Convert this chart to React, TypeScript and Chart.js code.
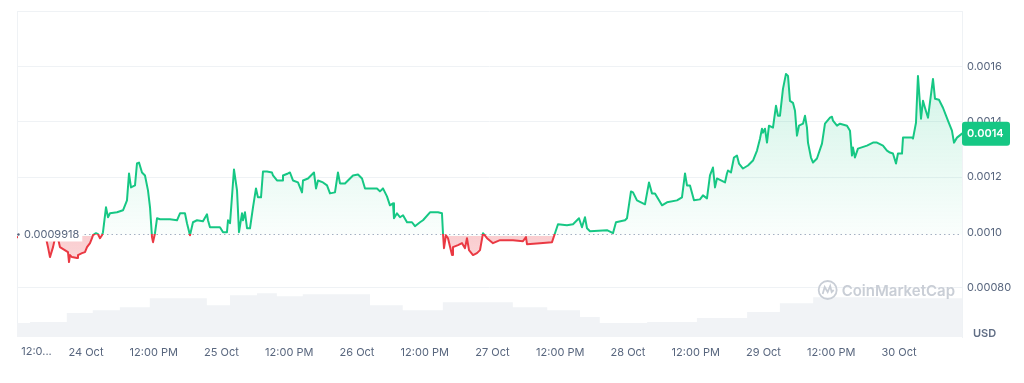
import React, { useEffect, useRef } from 'react';
import { Chart, registerables } from 'chart.js';

Chart.register(...registerables);

// Hours relative to 24 Oct 00:00
const hours = [
  -12.22, -10.8, -9.39, -8.15, -7.08, -6.73, -6.38, -5.84, -5.49, -4.96,
  -4.61, -3.19, -3.01, -2.83, -2.48, -1.59, -1.42, -0.71, -0.18, 0.18,
  0.71, 1.06, 1.24, 1.77, 2.13, 2.48, 2.83, 3.01, 3.54, 3.9,
  4.25, 5.49, 6.55, 6.91, 7.26, 7.62, 7.97, 8.68, 9.03, 9.39,
  9.92, 10.45, 10.98, 11.34, 11.69, 11.87, 12.22, 12.58, 13.11, 14.88,
  16.12, 16.65, 17.53, 17.89, 18.42, 18.95, 19.66, 20.72, 21.43, 21.61,
  21.96, 23.73, 24.27, 24.97, 25.15, 25.51, 26.21, 26.75, 27.1, 27.63,
  27.81, 28.16, 28.52, 29.05, 29.58, 30.11, 30.46, 31.0, 31.35, 32.06,
  32.94, 33.12, 33.83, 34.72, 34.89, 35.78, 36.13, 36.66, 37.55, 38.26,
  38.44, 39.32, 40.38, 40.74, 41.09, 41.98, 42.69, 43.22, 44.1, 44.63,
  44.99, 45.87, 47.29, 48.18, 48.89, 49.42, 51.54, 52.07, 52.6, 53.31,
  53.84, 54.38, 54.55, 55.08, 55.62, 56.15, 56.86, 57.74, 58.27, 59.16,
  59.69, 60.93, 62.35, 63.05, 63.23, 63.41, 63.76, 64.12, 64.83, 65.0,
  65.89, 66.6, 67.13, 67.48, 67.84, 68.55, 69.25, 69.79, 70.32, 71.03,
  72.09, 73.33, 75.63, 77.4, 77.93, 78.11, 80.41, 82.54, 83.07, 83.6,
  85.19, 86.26, 87.32, 87.85, 88.38, 88.74, 89.27, 92.28, 93.34, 93.87,
  95.47, 95.82, 96.53, 96.89, 97.59, 99.01, 99.72, 100.25, 100.78, 102.02,
  102.91, 104.68, 105.56, 106.1, 106.45, 106.98, 107.69, 108.75, 109.28, 109.99,
  110.52, 111.05, 111.41, 111.76, 113.18, 113.53, 113.71, 114.24, 114.77, 115.3,
  115.66, 116.37, 117.25, 118.14, 118.85, 119.38, 119.73, 119.91, 120.26, 120.62,
  120.97, 121.68, 122.21, 122.57, 122.92, 123.45, 123.98, 124.34, 124.69, 125.22,
  125.58, 125.93, 126.29, 127.0, 127.35, 127.7, 127.88, 128.41, 128.77, 129.47,
  129.65, 130.36, 130.89, 131.78, 132.13, 132.31, 133.02, 133.55, 134.79, 135.32,
  135.67, 135.85, 136.2, 136.73, 138.33, 139.39, 140.1, 141.16, 141.87, 142.4,
  142.93, 143.47, 143.82, 144.53, 144.71, 146.3, 146.48, 147.01, 147.36, 147.9,
  148.25, 148.6, 149.14, 150.02, 150.38, 151.08, 151.79, 152.67, 153.38, 153.74,
  154.27, 155.16,
];

const prices = [
  0.000982, 0.0009856, 0.000982, 0.0009783, 0.0009783, 0.0009459, 0.0009098, 0.0009459, 0.0009783, 0.0009783,
  0.0009459, 0.0009278, 0.0008917, 0.000917, 0.0009098, 0.0009061, 0.000917, 0.0009242, 0.0009278, 0.0009459,
  0.0009603, 0.0009783, 0.0009892, 0.0009964, 0.0009928, 0.0009783, 0.0009892, 0.001, 0.0010903, 0.0010542,
  0.0010686, 0.0010722, 0.0010794, 0.0010975, 0.0011155, 0.001213, 0.0011625, 0.0011697, 0.0012491, 0.0012527,
  0.0012166, 0.0012058, 0.0011516, 0.0010903, 0.000982, 0.0009639, 0.0009964, 0.0010505, 0.0010469, 0.0010469,
  0.0010433, 0.0010686, 0.0010686, 0.0010325, 0.0009892, 0.0010361, 0.0010433, 0.0010397, 0.001065, 0.0010433,
  0.0010181, 0.0010181, 0.001, 0.001, 0.0010433, 0.0010325, 0.0012274, 0.0011516, 0.001, 0.0010686,
  0.0010433, 0.0010722, 0.0010144, 0.0010144, 0.0010903, 0.0011588, 0.0011264, 0.0011264, 0.0012202, 0.0012202,
  0.0012166, 0.0012058, 0.0011877, 0.0011877, 0.0012058, 0.001213, 0.0012166, 0.0011877, 0.0011805, 0.0011444,
  0.0011877, 0.0011949, 0.0012166, 0.0011588, 0.0011877, 0.0011805, 0.0011697, 0.0011408, 0.0011444, 0.0012166,
  0.0011769, 0.0011769, 0.0012058, 0.0012094, 0.0011949, 0.0011588, 0.0011588, 0.001148, 0.0011588, 0.00113,
  0.0010975, 0.0011047, 0.0010505, 0.0010686, 0.0010542, 0.0010614, 0.0010361, 0.0010361, 0.0010217, 0.0010361,
  0.0010433, 0.0010722, 0.0010722, 0.0010686, 0.0009964, 0.0009422, 0.0009892, 0.0009783, 0.000917, 0.0009459,
  0.0009531, 0.0009603, 0.0009422, 0.0009783, 0.000935, 0.000917, 0.0009242, 0.000935, 0.0009964, 0.0009783,
  0.0009603, 0.0009711, 0.0009711, 0.0009675, 0.000982, 0.0009567, 0.0009603, 0.0009639, 0.0009964, 0.0010289,
  0.0010253, 0.0010289, 0.0010505, 0.0010181, 0.0010542, 0.0010144, 0.0010036, 0.0010072, 0.0009964, 0.0010361,
  0.0010433, 0.0010505, 0.001148, 0.0011444, 0.0011155, 0.0011011, 0.0011805, 0.0011408, 0.0011408, 0.0010975,
  0.0011083, 0.0011155, 0.0011264, 0.001213, 0.0011697, 0.0011697, 0.0011155, 0.0011191, 0.0011336, 0.0011227,
  0.0012058, 0.0012347, 0.0011625, 0.0011949, 0.0011805, 0.001213, 0.0012238, 0.0012166, 0.0012708, 0.001278,
  0.0012491, 0.001231, 0.0012419, 0.0012599, 0.001296, 0.0013393, 0.0013754, 0.001361, 0.0013754, 0.0013249,
  0.0013863, 0.0013791, 0.0014585, 0.0014224, 0.0014224, 0.0015198, 0.001574, 0.0015668, 0.0014765, 0.0014693,
  0.0014404, 0.0013502, 0.0013863, 0.0013935, 0.0014224, 0.0013791, 0.0013249, 0.0012708, 0.0012527, 0.0012671,
  0.001278, 0.0013213, 0.0013935, 0.0014152, 0.0014188, 0.0014043, 0.0013863, 0.0013935, 0.0013863, 0.0013682,
  0.001278, 0.0013069, 0.0012708, 0.0013032, 0.0013141, 0.0013249, 0.0013249, 0.0013141, 0.001296, 0.0012888,
  0.0012852, 0.0012491, 0.0012852, 0.0012852, 0.001343, 0.001343, 0.0013393, 0.0013971, 0.0015668, 0.0014115,
  0.0014765, 0.0014513, 0.0014152, 0.0015559, 0.0014837, 0.0014801, 0.0014513, 0.0014043, 0.0013682, 0.0013249,
  0.001343, 0.0013574,
];

const volumeHours = [
  -12.22, -9.9, -3.4, 1.2, 6.0, 11.3, 21.4, 25.5, 30.3, 33.8, 38.4, 50.3, 56.1,
  63.2, 75.6, 81.7, 87.5, 91.0, 99.4, 108.2, 117.1, 122.9, 128.8, 140.6, 155.16,
];
const volumes = [
  14, 15, 24, 27, 30, 39, 32, 42, 44, 41, 43, 32, 27,
  35, 30, 27, 20, 14, 15, 19, 25, 34, 40, 39, 39,
];

const xTickHours = [-12, 0, 12, 24, 36, 48, 60, 72, 84, 96, 108, 120, 132, 144];
const xTickLabels = [
  '12:0...', '24 Oct', '12:00 PM', '25 Oct', '12:00 PM', '26 Oct', '12:00 PM',
  '27 Oct', '12:00 PM', '28 Oct', '12:00 PM', '29 Oct', '12:00 PM', '30 Oct',
];
const yTicks = [0.0008, 0.001, 0.0012, 0.0014, 0.0016, 0.0018];
const yTickLabels = ['0.00080', '0.0010', '0.0012', '0.0014', '0.0016', ''];

const baseline = 0.0009918;
const baselineLabel = '0.0009918';
const priceTagLabel = '0.0014';
const currencyLabel = 'USD';
const watermarkText = 'CoinMarketCap';

const GREEN = '#16c784';
const RED = '#ea3943';
const FONT = 'Inter, "Noto Sans", sans-serif';
const TEXT = '#58667e';

function splitStops(ctx: any, stops: [string, string, string, string], shiftPx: number) {
  const chart = ctx.chart;
  const a = chart.chartArea;
  const ys = chart.scales && chart.scales.y;
  if (!a || !ys) return stops[0];
  const bp = ys.getPixelForValue(baseline);
  if (!isFinite(bp)) return stops[0];
  let t = (bp + shiftPx - a.top) / (a.bottom - a.top);
  t = Math.max(0, Math.min(1, t));
  const g = chart.ctx.createLinearGradient(0, a.top, 0, a.bottom);
  g.addColorStop(0, stops[0]);
  g.addColorStop(t, stops[1]);
  g.addColorStop(t, stops[2]);
  g.addColorStop(1, stops[3]);
  return g;
}

const overlay = {
  id: 'overlay',
  beforeDatasetsDraw(chart: any) {
    const { ctx, chartArea: a, scales } = chart;
    const bp = Math.round(scales.y.getPixelForValue(baseline)) + 0.5;
    ctx.save();
    ctx.strokeStyle = '#eff2f5';
    ctx.lineWidth = 1;
    ctx.beginPath();
    ctx.moveTo(a.left + 0.5, a.top);
    ctx.lineTo(a.left + 0.5, a.bottom);
    ctx.stroke();
    ctx.strokeStyle = '#a6b0c3';
    ctx.setLineDash([1.5, 3]);
    ctx.beginPath();
    ctx.moveTo(a.left, bp);
    ctx.lineTo(a.right, bp);
    ctx.stroke();
    ctx.restore();
  },
  afterDatasetsDraw(chart: any) {
    const { ctx, chartArea: a, scales } = chart;
    const bp = scales.y.getPixelForValue(baseline);
    ctx.save();
    // watermark
    ctx.font = `600 15px ${FONT}`;
    ctx.textBaseline = 'middle';
    ctx.textAlign = 'right';
    ctx.fillStyle = '#c9ced6';
    const wx = a.right - 7;
    const wy = 291;
    ctx.fillText(watermarkText, wx, wy);
    const tw = ctx.measureText(watermarkText).width;
    const cx = wx - tw - 14;
    ctx.strokeStyle = '#c9ced6';
    ctx.lineWidth = 1.8;
    ctx.beginPath();
    ctx.arc(cx, wy - 1, 9, 0, Math.PI * 2);
    ctx.stroke();
    ctx.beginPath();
    ctx.moveTo(cx - 5, wy + 3);
    ctx.lineTo(cx - 3, wy - 4);
    ctx.lineTo(cx, wy + 1);
    ctx.lineTo(cx + 2.5, wy - 5);
    ctx.lineTo(cx + 4, wy + 1);
    ctx.lineTo(cx + 6, wy - 1);
    ctx.stroke();
    // baseline label
    ctx.font = `11px ${FONT}`;
    ctx.textAlign = 'left';
    const lw = ctx.measureText(baselineLabel).width;
    ctx.fillStyle = '#ffffff';
    ctx.fillRect(a.left + 1, bp - 7, lw + 9, 14);
    ctx.fillStyle = TEXT;
    ctx.fillText(baselineLabel, a.left + 7, bp + 0.5);
    ctx.beginPath();
    ctx.arc(a.left + 1.5, bp, 1.2, 0, Math.PI * 2);
    ctx.fill();
    ctx.restore();
  },
  afterDraw(chart: any) {
    const { ctx, chartArea: a, scales } = chart;
    const last = prices[prices.length - 1];
    const py = scales.y.getPixelForValue(last);
    ctx.save();
    // price tag
    ctx.fillStyle = GREEN;
    const w = 48, h = 24, r = 3, x0 = a.right, y0 = py - h / 2;
    ctx.beginPath();
    ctx.moveTo(x0 + r, y0);
    ctx.lineTo(x0 + w - r, y0);
    ctx.quadraticCurveTo(x0 + w, y0, x0 + w, y0 + r);
    ctx.lineTo(x0 + w, y0 + h - r);
    ctx.quadraticCurveTo(x0 + w, y0 + h, x0 + w - r, y0 + h);
    ctx.lineTo(x0 + r, y0 + h);
    ctx.quadraticCurveTo(x0, y0 + h, x0, y0 + h - r);
    ctx.lineTo(x0, y0 + r);
    ctx.quadraticCurveTo(x0, y0, x0 + r, y0);
    ctx.fill();
    ctx.fillStyle = '#ffffff';
    ctx.font = `600 11px ${FONT}`;
    ctx.textAlign = 'left';
    ctx.textBaseline = 'middle';
    ctx.fillText(priceTagLabel, x0 + 5, py + 0.5);
    // currency
    ctx.fillStyle = '#616e85';
    ctx.font = `600 11px ${FONT}`;
    ctx.fillText(currencyLabel, a.right + 11, a.bottom - 3);
    // first x label, left aligned
    const xs = scales.x;
    ctx.fillStyle = TEXT;
    ctx.font = `11px ${FONT}`;
    ctx.textBaseline = 'middle';
    ctx.fillText(xTickLabels[0], xs.getPixelForValue(xTickHours[0]) + 3, xs.top + 15);
    ctx.restore();
  },
};

export default function App() {
  const ref = useRef<HTMLCanvasElement>(null);
  useEffect(() => {
    const canvas = ref.current;
    if (!canvas) return;
    const chart = new Chart(canvas, {
      type: 'line',
      data: {
        datasets: [
          {
            label: 'Price',
            data: hours.map((h, i) => ({ x: h, y: prices[i] })),
            yAxisID: 'y',
            order: 0,
            borderWidth: 2,
            pointRadius: 0,
            pointHoverRadius: 0,
            tension: 0,
            borderJoinStyle: 'round',
            borderCapStyle: 'round',
            borderColor: (ctx: any) => splitStops(ctx, [GREEN, GREEN, RED, RED], 0),
            backgroundColor: (ctx: any) =>
              splitStops(
                ctx,
                [
                  'rgba(22,199,132,0.26)',
                  'rgba(22,199,132,0.02)',
                  'rgba(234,57,67,0.25)',
                  'rgba(234,57,67,0.08)',
                ],
                1.5
              ),
            fill: { value: baseline },
          } as any,
          {
            label: 'Volume',
            data: volumeHours.map((h, i) => ({ x: h, y: volumes[i] })),
            yAxisID: 'y2',
            order: 1,
            stepped: true,
            borderWidth: 1,
            borderColor: 'rgba(0,0,0,0)',
            pointRadius: 0,
            pointHoverRadius: 0,
            backgroundColor: '#f1f3f6',
            fill: 'origin',
          } as any,
        ],
      },
      options: {
        responsive: false,
        animation: false,
        events: [],
        layout: { padding: { left: 17, top: 10, right: 0, bottom: 0 } },
        plugins: { legend: { display: false }, tooltip: { enabled: false } },
        scales: {
          x: {
            type: 'linear',
            min: hours[0],
            max: hours[hours.length - 1],
            grid: { display: false, drawTicks: false },
            border: { display: false },
            afterBuildTicks: (s: any) => {
              s.ticks = xTickHours.map((v) => ({ value: v }));
            },
            afterFit: (s: any) => {
              s.height = 46;
            },
            ticks: {
              autoSkip: false,
              maxRotation: 0,
              minRotation: 0,
              padding: 9,
              color: TEXT,
              font: { size: 11, family: FONT },
              callback: (_v: any, i: number) => (i === 0 ? '' : xTickLabels[i]),
            },
          },
          y: {
            position: 'right',
            min: 0.00062,
            max: 0.0018,
            afterBuildTicks: (s: any) => {
              s.ticks = yTicks.map((v) => ({ value: v }));
            },
            afterFit: (s: any) => {
              s.width = 62;
            },
            grid: {
              drawTicks: false,
              color: (ctx: any) =>
                ctx.tick && ctx.tick.value === 0.001 ? 'rgba(0,0,0,0)' : '#eff2f5',
            },
            border: { display: true, color: '#eff2f5' },
            ticks: {
              padding: 5,
              color: TEXT,
              font: { size: 11, family: FONT },
              callback: (_v: any, i: number) => yTickLabels[i],
            },
          },
          y2: { display: false, min: 0, max: 327 },
        },
      } as any,
      plugins: [overlay],
    });
    return () => chart.destroy();
  }, []);
  return (
    <div style={{ position: 'absolute', left: 0, top: 0, width: 1024, height: 383, background: '#ffffff' }}>
      <canvas ref={ref} width={1024} height={383} style={{ display: 'block' }} />
    </div>
  );
}
